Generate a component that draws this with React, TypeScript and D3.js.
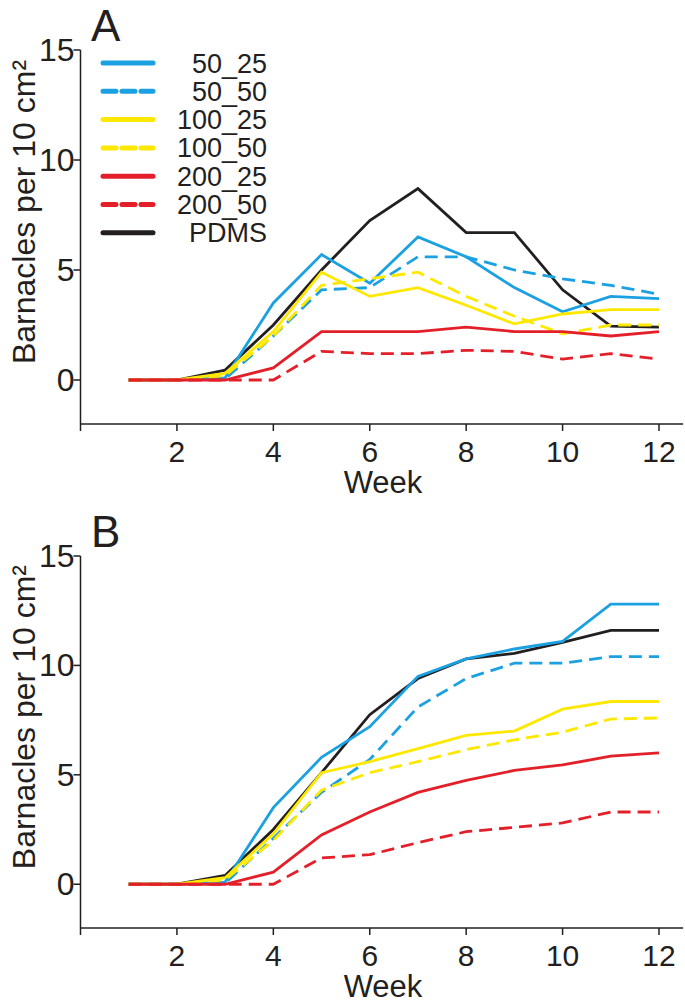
import React from "react";
import * as d3 from "d3";

const weeks = [1, 2, 3, 4, 5, 6, 7, 8, 9, 10, 11, 12];
const seriesNames = ["PDMS", "50_25", "50_50", "100_25", "100_50", "200_25", "200_50"];
const legendOrder = ["50_25", "50_50", "100_25", "100_50", "200_25", "200_50", "PDMS"];

const colors: Record<string, string> = {
  "50_25": "#1ba1e2",
  "50_50": "#1ba1e2",
  "100_25": "#ffe800",
  "100_50": "#ffe800",
  "200_25": "#e3202a",
  "200_50": "#e3202a",
  PDMS: "#231f20",
};
const dashed: Record<string, boolean> = {
  "50_25": false,
  "50_50": true,
  "100_25": false,
  "100_50": true,
  "200_25": false,
  "200_50": true,
  PDMS: false,
};

// Panel A values
const a_50_25 = [0, 0, 0.1, 3.5, 5.7, 4.4, 6.5, 5.6, 4.2, 3.1, 3.8, 3.7];
const a_50_50 = [0, 0, 0.05, 2.0, 4.1, 4.2, 5.6, 5.6, 5.0, 4.6, 4.3, 3.9];
const a_100_25 = [0, 0, 0.3, 2.2, 4.9, 3.8, 4.2, 3.4, 2.55, 3.0, 3.2, 3.2];
const a_100_50 = [0, 0, 0.2, 2.0, 4.3, 4.6, 4.9, 3.8, 2.9, 2.1, 2.5, 2.5];
const a_200_25 = [0, 0, 0, 0.55, 2.2, 2.2, 2.2, 2.4, 2.2, 2.2, 2.0, 2.2];
const a_200_50 = [0, 0, 0, 0, 1.3, 1.2, 1.2, 1.35, 1.3, 0.95, 1.2, 0.95];
const a_PDMS = [0, 0, 0.45, 2.5, 5.0, 7.25, 8.7, 6.7, 6.7, 4.1, 2.45, 2.4];

// Panel B values
const b_50_25 = [0, 0, 0.1, 3.5, 5.8, 7.2, 9.5, 10.3, 10.75, 11.1, 12.8, 12.8];
const b_50_50 = [0, 0, 0.05, 2.1, 4.2, 5.7, 8.1, 9.4, 10.1, 10.1, 10.4, 10.4];
const b_100_25 = [0, 0, 0.3, 2.3, 5.1, 5.6, 6.2, 6.8, 7.0, 8.0, 8.35, 8.35];
const b_100_50 = [0, 0, 0.2, 2.0, 4.3, 5.1, 5.6, 6.15, 6.6, 6.95, 7.55, 7.6];
const b_200_25 = [0, 0, 0, 0.55, 2.25, 3.3, 4.2, 4.75, 5.2, 5.45, 5.85, 6.0];
const b_200_50 = [0, 0, 0, 0, 1.2, 1.35, 1.9, 2.4, 2.6, 2.8, 3.3, 3.3];
const b_PDMS = [0, 0, 0.4, 2.5, 5.1, 7.75, 9.4, 10.3, 10.55, 11.05, 11.6, 11.6];

const panelA: Record<string, number[]> = {
  "50_25": a_50_25,
  "50_50": a_50_50,
  "100_25": a_100_25,
  "100_50": a_100_50,
  "200_25": a_200_25,
  "200_50": a_200_50,
  PDMS: a_PDMS,
};
const panelB: Record<string, number[]> = {
  "50_25": b_50_25,
  "50_50": b_50_50,
  "100_25": b_100_25,
  "100_50": b_100_50,
  "200_25": b_200_25,
  "200_50": b_200_50,
  PDMS: b_PDMS,
};

const xTicks = [2, 4, 6, 8, 10, 12];
const yTicks = [0, 5, 10, 15];

const FONT = "'Liberation Sans', Arial, sans-serif";
const AXIS = "#231f20";

function Panel({
  data,
  label,
  top,
  bottom,
  showLegend,
}: {
  data: Record<string, number[]>;
  label: string;
  top: number;
  bottom: number;
  showLegend: boolean;
}) {
  const x = d3.scaleLinear().domain([0, 12]).range([80.5, 659]);
  const y = d3.scaleLinear().domain([-2, 15]).range([bottom, top]);
  const line = d3
    .line<number>()
    .x((_, i) => x(weeks[i]))
    .y((v) => y(v));
  const xEnd = x(12.5);
  return (
    <g>
      <text x={91} y={top - 9} fontSize={44} fontFamily={FONT} fill={AXIS}>
        {label}
      </text>
      <text
        transform={`translate(35,${(top + y(0)) / 2 - 3}) rotate(-90)`}
        textAnchor="middle"
        fontSize={32}
        fontFamily={FONT}
        fill={AXIS}
      >
        {"Barnacles  per 10 cm²"}
      </text>
      {/* y axis */}
      <line x1={x(0)} x2={x(0)} y1={top} y2={bottom} stroke={AXIS} strokeWidth={1.5} />
      {yTicks.map((t) => (
        <g key={t}>
          <line x1={x(0) - 7} x2={x(0)} y1={y(t)} y2={y(t)} stroke={AXIS} strokeWidth={1.5} />
          <text
            x={x(0) - 6}
            y={y(t) + 11}
            textAnchor="end"
            fontSize={32}
            fontFamily={FONT}
            fill={AXIS}
          >
            {t}
          </text>
        </g>
      ))}
      {/* x axis */}
      <line x1={x(0)} x2={xEnd} y1={bottom} y2={bottom} stroke={AXIS} strokeWidth={1.5} />
      {[0, ...xTicks].map((t) => (
        <line key={t} x1={x(t)} x2={x(t)} y1={bottom} y2={bottom + 7} stroke={AXIS} strokeWidth={1.5} />
      ))}
      {xTicks.map((t) => (
        <text
          key={t}
          x={x(t)}
          y={bottom + 38}
          textAnchor="middle"
          fontSize={30}
          fontFamily={FONT}
          fill={AXIS}
        >
          {t}
        </text>
      ))}
      <text
        x={383}
        y={bottom + 69}
        textAnchor="middle"
        fontSize={31}
        fontFamily={FONT}
        fill={AXIS}
      >
        Week
      </text>
      {/* series */}
      {seriesNames.map((name) => (
        <path
          key={name}
          d={line(data[name]) || ""}
          fill="none"
          stroke={colors[name]}
          strokeWidth={2.8}
          strokeDasharray={dashed[name] ? "13,7" : undefined}
          strokeLinejoin="miter"
        />
      ))}
      {showLegend &&
        legendOrder.map((name, i) => {
          const ly = 63 + i * 28.3;
          return (
            <g key={name}>
              <line
                x1={103}
                x2={153}
                y1={ly}
                y2={ly}
                stroke={colors[name]}
                strokeWidth={5}
                strokeLinecap="round"
                strokeDasharray={dashed[name] ? "13,6" : undefined}
              />
              <text
                x={267}
                y={ly + 9.5}
                textAnchor="end"
                fontSize={27}
                fontFamily={FONT}
                fill={AXIS}
              >
                {name}
              </text>
            </g>
          );
        })}
    </g>
  );
}

export default function App() {
  return (
    <svg width={685} height={1003} style={{ position: "absolute", left: 0, top: 0, background: "#fff" }}>
      <rect width={685} height={1003} fill="#fff" />
      <Panel data={panelA} label="A" top={50} bottom={424} showLegend={true} />
      <Panel data={panelB} label="B" top={556} bottom={928} showLegend={false} />
    </svg>
  );
}
